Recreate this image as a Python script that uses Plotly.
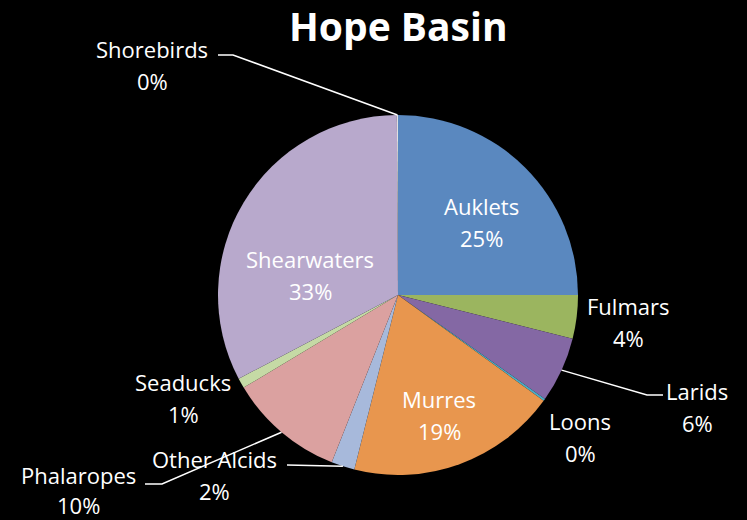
import math
import plotly.graph_objects as go

W, H = 747, 520

# ---- data ----
categories = ["Auklets", "Fulmars", "Larids", "Loons", "Murres", "Other Alcids",
              "Phalaropes", "Seaducks", "Shearwaters", "Shorebirds"]
values = [25.0, 3.9, 5.9, 0.2, 18.9, 2.1, 10.4, 0.9, 32.6, 0.1]
colors = ["#5A88BF", "#9BB55F", "#8468A4", "#4BACC6", "#E8964E", "#A7B9DB",
          "#DBA1A0", "#C5DAA5", "#B8A9CC", "#E0E0E0"]
title_text = "Hope Basin"

# ---- layout (pixel positions) ----
CX, CY, R = 398, 295, 180
# label centre (x, y of first line, gap to second line) in pixels
label_pos = {
    "Auklets": (481, 206, 32), "Fulmars": (628, 306, 32), "Larids": (697, 391, 32),
    "Loons": (580, 421, 32), "Murres": (439, 399, 32), "Other Alcids": (214, 459, 32),
    "Phalaropes": (78, 475, 30), "Seaducks": (183, 382, 32),
    "Shearwaters": (310, 259, 32), "Shorebirds": (152, 49, 32),
}
# leader lines: list of elbow points (pixels) from label side toward slice
leaders = {
    "Shorebirds": [(218, 55), (233, 55)],
    "Larids": [(663, 395), (647, 395)],
    "Other Alcids": [(287, 465)],
    "Phalaropes": [(145, 484), (162, 484)],
}
FONT = "Open Sans, Noto Sans, sans-serif"


def px(x):
    return x / W


def py(y):
    return 1 - y / H


fig = go.Figure()
fig.add_trace(go.Pie(
    labels=categories, values=values, sort=False, direction="clockwise",
    rotation=0, textinfo="none", hoverinfo="label+percent",
    marker=dict(colors=colors, line=dict(width=0)),
    domain=dict(x=[px(CX - R), px(CX + R)], y=[py(CY + R), py(CY - R)]),
    showlegend=False,
))

total = sum(values)
annotations = []
shapes = []
cum = 0.0
font = dict(family=FONT, size=22, color="white")
for cat, v in zip(categories, values):
    mid = (cum + v / 2) / total * 2 * math.pi
    cum += v
    pct = f"{round(v / total * 100):d}%"
    lx, ly, gap = label_pos[cat]
    annotations.append(dict(x=px(lx), y=py(ly), xref="paper", yref="paper",
                            text=cat, showarrow=False, font=font,
                            xanchor="center", yanchor="middle"))
    annotations.append(dict(x=px(lx), y=py(ly + gap), xref="paper", yref="paper",
                            text=pct, showarrow=False, font=font, borderpad=0,
                            xanchor="center", yanchor="middle"))
    if cat in leaders:
        ax = CX + R * math.sin(mid)
        ay = CY - R * math.cos(mid)
        pts = leaders[cat] + [(ax, ay)]
        path = "M " + " L ".join(f"{px(x):.5f},{py(y):.5f}" for x, y in pts)
        shapes.append(dict(type="path", path=path, xref="paper", yref="paper",
                           line=dict(color="white", width=1.5)))

annotations.append(dict(x=px(398), y=py(25), xref="paper", yref="paper",
                        text=f"<b>{title_text}</b>", showarrow=False,
                        font=dict(family=FONT, size=39, color="white"),
                        xanchor="center", yanchor="middle"))

fig.update_layout(
    width=W, height=H, paper_bgcolor="black", plot_bgcolor="black",
    margin=dict(l=0, r=0, t=0, b=0),
    annotations=annotations, shapes=shapes,
)
fig.write_html("out.html", config={"displayModeBar": False},
               post_script="document.body.style.margin='0';document.body.style.background='black';")
